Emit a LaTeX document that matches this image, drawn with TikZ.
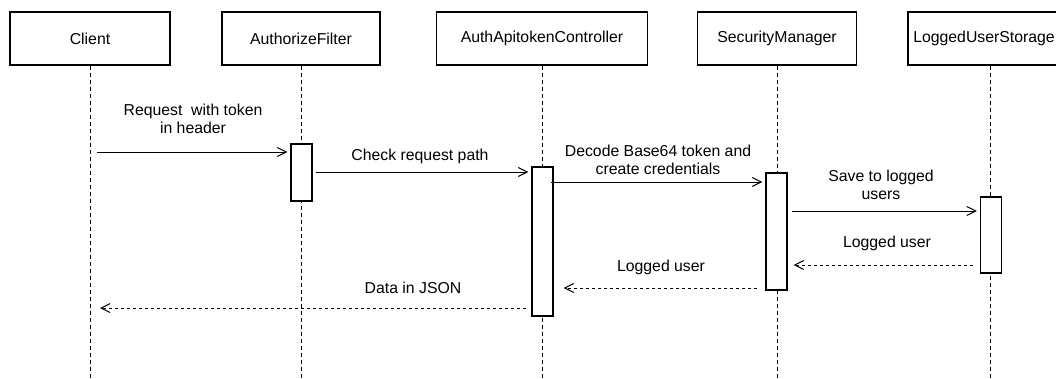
\documentclass[tikz,border=0pt]{standalone}
\usepackage{fontspec}
\setmainfont{Liberation Sans}
\usetikzlibrary{arrows.meta}
\begin{document}
\begin{tikzpicture}[x=1pt,y=-1pt,
  every node/.style={font=\fontsize{15.8}{18}\selectfont},
  participant/.style={draw, line width=1.1pt, fill=white, minimum height=53pt, inner sep=0pt},
  lifeline/.style={line width=0.9pt, dash pattern=on 4pt off 3pt},
  activation/.style={draw, line width=1.1pt, fill=white, minimum width=21pt, inner sep=0pt},
  call/.style={line width=1pt, -{Straight Barb[length=9pt,width=9pt,line width=1pt]}},
  reply/.style={line width=1pt, dash pattern=on 3pt off 3pt, -{Straight Barb[length=9pt,width=9pt,line width=1pt]}},
  msglabel/.style={align=center, inner sep=0pt}]
\clip (0,0) rectangle (1056,378);

% participants
\node[participant, minimum width=160pt] (client)  at (90,38.5)  {Client};
\node[participant, minimum width=158pt] (filter)  at (301,38.5) {AuthorizeFilter};
\node[participant, minimum width=211pt] (ctrl)    at (542,38.5) {AuthApitokenController};
\node[participant, minimum width=159pt] (secmgr)  at (777,38.5) {SecurityManager};
\node[participant, minimum width=160pt] (storage) at (988,38.5) {\hspace*{-8pt}LoggedUserStorage};

% lifeline ends
\coordinate (clientEnd)  at (90,380);
\coordinate (filterEnd)  at (301,380);
\coordinate (ctrlEnd)    at (542,380);
\coordinate (secmgrEnd)  at (777,380);
\coordinate (storageEnd) at (990,380);

\draw[lifeline] (client.south)  -- (clientEnd);
\draw[lifeline] (filter.south)  -- (filterEnd);
\draw[lifeline] (ctrl.south)    -- (ctrlEnd);
\draw[lifeline] (secmgr.south)  -- (secmgrEnd);
\draw[lifeline] (storage.south -| storageEnd) -- (storageEnd);

% activation bars
\node[activation, minimum height=57pt]  (fa) at (301.5,172.5) {};
\node[activation, minimum height=149pt] (ca) at (542.5,241.5) {};
\node[activation, minimum height=117pt] (sa) at (776.5,231.5) {};
\node[activation, minimum height=76pt]  (ta) at (991,235)     {};

% messages
\draw[call, shorten <=7pt, shorten >=3pt] (client.south |- 0,152) -- (fa.west |- 0,152);
\node[msglabel] (m1) at (193,119) {Request\ \ with token\\in header};

\draw[call, shorten <=3pt, shorten >=3pt] (fa.east |- 0,172) -- (ca.west |- 0,172);
\node[msglabel] (m2) at (420,156) {Check request path};

\draw[call, shorten <=-3pt, shorten >=3pt] (ca.east |- 0,182) -- (sa.west |- 0,182);
\node[msglabel] (m3) at (658,160) {Decode Base64 token and\\create credentials};

\draw[call, shorten <=4pt, shorten >=3pt] (sa.east |- 0,211) -- (ta.west |- 0,211);
\node[msglabel] (m4) at (881,185) {Save to logged\\users};

\draw[reply, shorten <=7pt, shorten >=6pt] (ta.west |- 0,265) -- (sa.east |- 0,265);
\node[msglabel] (m5) at (887,243) {Logged user};

\draw[reply, shorten <=8pt, shorten >=10pt] (sa.west |- 0,288) -- (ca.east |- 0,288);
\node[msglabel] (m6) at (661,267) {Logged user};

\draw[reply, shorten <=5pt, shorten >=10pt] (ca.west |- 0,308) -- (client.south |- 0,308);
\node[msglabel] (m7) at (413,288) {Data in JSON};
\end{tikzpicture}
\end{document}
